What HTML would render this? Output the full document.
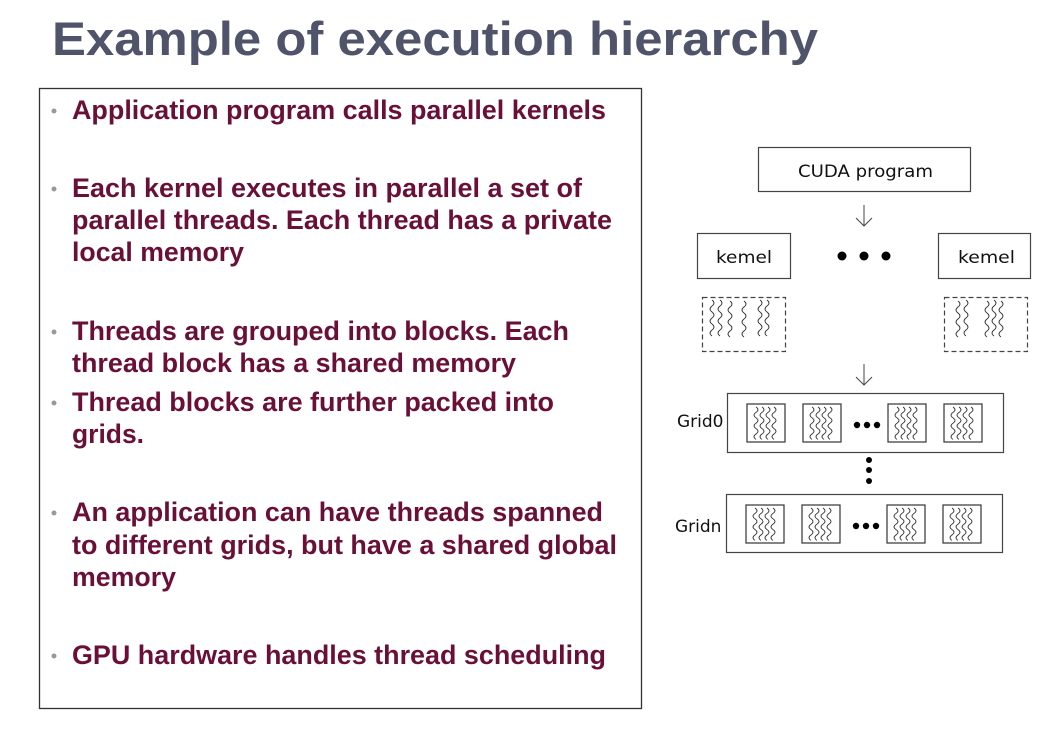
<!DOCTYPE html>
<html><head><meta charset="utf-8"><style>
html,body{margin:0;padding:0;background:#fff;}
svg{display:block;}
.b{font-family:"Liberation Sans",Arial,sans-serif;font-weight:bold;font-size:26.5px;fill:#6a1038;}
.d{font-family:"DejaVu Sans","Liberation Sans",sans-serif;font-size:17px;fill:#111;}
</style></head><body>
<svg width="1051" height="735" viewBox="0 0 1051 735" xmlns="http://www.w3.org/2000/svg">
<defs>
<g id="w">
<path d="M0 0 q4 3 0 6 q-4 3 0 6 q4 3 0 6 q-4 3 0 6 q4 3 0 6 q-4 3 0 6" fill="none" stroke="#333" stroke-width="0.9"/>
</g>
<g id="blk">
<rect x="0" y="0" width="38" height="38" fill="#fff" stroke="#333" stroke-width="1.2"/>
<g transform="translate(9,3) scale(1,0.9)"><use href="#w"/></g>
<g transform="translate(15,3) scale(1,0.9)"><use href="#w"/></g>
<g transform="translate(21,3) scale(1,0.9)"><use href="#w"/></g>
<g transform="translate(27,3) scale(1,0.9)"><use href="#w"/></g>
</g>
</defs>
<text x="52" y="55" font-family="Liberation Sans,Arial,sans-serif" font-weight="bold" font-size="47" fill="#50546a" textLength="766" lengthAdjust="spacingAndGlyphs">Example of execution hierarchy</text>
<rect x="39.5" y="88.5" width="602" height="620" fill="none" stroke="#333" stroke-width="1.3"/>
<g fill="#999">
<circle cx="54" cy="111" r="2.5"/><circle cx="54" cy="189" r="2.5"/><circle cx="54" cy="332" r="2.5"/><circle cx="54" cy="403" r="2.5"/><circle cx="54" cy="513" r="2.5"/><circle cx="54" cy="656" r="2.5"/>
</g>
<g lengthAdjust="spacingAndGlyphs">
<text class="b" x="72" y="119" textLength="534" lengthAdjust="spacingAndGlyphs">Application program calls parallel kernels</text>
<text class="b" x="72" y="197" textLength="510" lengthAdjust="spacingAndGlyphs">Each kernel executes in parallel a set of</text>
<text class="b" x="72" y="229" textLength="540" lengthAdjust="spacingAndGlyphs">parallel threads. Each thread has a private</text>
<text class="b" x="72" y="261" textLength="172" lengthAdjust="spacingAndGlyphs">local memory</text>
<text class="b" x="72" y="340" textLength="497" lengthAdjust="spacingAndGlyphs">Threads are grouped into blocks. Each</text>
<text class="b" x="72" y="372" textLength="444" lengthAdjust="spacingAndGlyphs">thread block has a shared memory</text>
<text class="b" x="72" y="411" textLength="482" lengthAdjust="spacingAndGlyphs">Thread blocks are further packed into</text>
<text class="b" x="72" y="443" textLength="72" lengthAdjust="spacingAndGlyphs">grids.</text>
<text class="b" x="72" y="521" textLength="531" lengthAdjust="spacingAndGlyphs">An application can have threads spanned</text>
<text class="b" x="72" y="554" textLength="545" lengthAdjust="spacingAndGlyphs">to different grids, but have a shared global</text>
<text class="b" x="72" y="586" textLength="104" lengthAdjust="spacingAndGlyphs">memory</text>
<text class="b" x="72" y="664" textLength="534" lengthAdjust="spacingAndGlyphs">GPU hardware handles thread scheduling</text>
</g>

<g stroke="#444" stroke-width="1.2" fill="#fff">
<rect x="758.5" y="147.5" width="212" height="44"/>
<rect x="697.5" y="233.5" width="93" height="45"/>
<rect x="938.5" y="233.5" width="92" height="45"/>
<rect x="702.5" y="297.5" width="83" height="54" stroke-dasharray="5,3"/>
<rect x="944.5" y="297.5" width="83" height="54" stroke-dasharray="5,3"/>
<rect x="727.5" y="393.5" width="276" height="59"/>
<rect x="726.5" y="494.5" width="276" height="58"/>
</g>
<text class="d" x="798" y="177" textLength="135" lengthAdjust="spacingAndGlyphs">CUDA program</text>
<text class="d" x="716" y="263" textLength="56" lengthAdjust="spacingAndGlyphs">kemel</text>
<text class="d" x="958" y="263" textLength="57" lengthAdjust="spacingAndGlyphs">kemel</text>
<g stroke="#444" stroke-width="1" fill="none">
<path d="M864 205 V226 M856 218 L864 226 L872 218"/>
<path d="M864 364 V385 M856 377 L864 385 L872 377"/>
</g>
<g fill="#000">
<circle cx="842" cy="256" r="4.5"/><circle cx="864" cy="256" r="4.5"/><circle cx="886" cy="256" r="4.5"/>
<circle cx="857" cy="425" r="3.2"/><circle cx="867" cy="425" r="3.2"/><circle cx="877" cy="425" r="3.2"/>
<circle cx="856" cy="526" r="3.2"/><circle cx="866" cy="526" r="3.2"/><circle cx="876" cy="526" r="3.2"/>
<circle cx="869" cy="460" r="3"/><circle cx="869" cy="470" r="3"/><circle cx="869" cy="481" r="3"/>
</g>
<g transform="translate(712,300)"><use href="#w"/></g><g transform="translate(720,300)"><use href="#w"/></g><g transform="translate(730,301)"><use href="#w"/></g><g transform="translate(744,301)"><use href="#w"/></g><g transform="translate(760,300)"><use href="#w"/></g><g transform="translate(767,300)"><use href="#w"/></g>
<g transform="translate(958,301)"><use href="#w"/></g><g transform="translate(966,300)"><use href="#w"/></g><g transform="translate(987,301)"><use href="#w"/></g><g transform="translate(994,300)"><use href="#w"/></g><g transform="translate(1001,301)"><use href="#w"/></g>
<g transform="translate(747,404)"><use href="#blk"/></g>
<g transform="translate(803,404)"><use href="#blk"/></g>
<g transform="translate(888,404)"><use href="#blk"/></g>
<g transform="translate(944,404)"><use href="#blk"/></g>
<g transform="translate(746,505)"><use href="#blk"/></g>
<g transform="translate(802,505)"><use href="#blk"/></g>
<g transform="translate(887,505)"><use href="#blk"/></g>
<g transform="translate(943,505)"><use href="#blk"/></g>
<text class="d" x="677" y="427" font-size="15">Grid0</text>
<text class="d" x="675" y="532" font-size="15">Gridn</text>
</svg>
</body></html>
